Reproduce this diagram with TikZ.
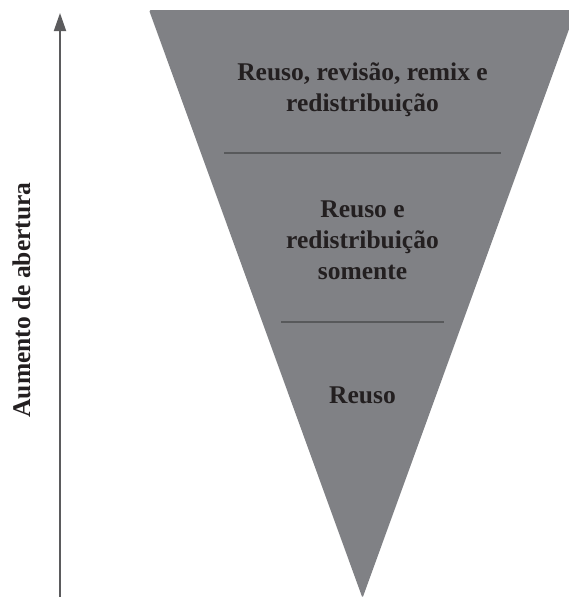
\documentclass[tikz,border=0pt]{standalone}
\usepackage{fontspec}
\setmainfont{Liberation Serif}
\usepackage{xcolor}
\usetikzlibrary{positioning,arrows.meta}

\definecolor{funil}{HTML}{808185}
\definecolor{divisa}{HTML}{58595B}
\definecolor{seta}{HTML}{5B5B5D}
\definecolor{texto}{HTML}{231F20}

\tikzset{
  rotulo/.style={font=\bfseries\fontsize{25.5}{31}\selectfont, text=texto, align=center, inner sep=0pt},
  divisoria/.style={draw=divisa, line width=2pt}
}

\begin{document}
\begin{tikzpicture}[x=1pt, y=-1pt]
\useasboundingbox (0,0) rectangle (568,597);
% funnel
\fill[funil, rounded corners=1.5pt] (149,10) -- (576,10) -- (362.5,598) -- cycle;
% dividers
\coordinate (d1a) at (224,152.5);
\coordinate (d1b) at (501,152.5);
\coordinate (d2a) at (281,322);
\coordinate (d2b) at (444,322);
\draw[divisoria] (d1a) -- (d1b);
\draw[divisoria] (d2a) -- (d2b);
% levels
\node[rotulo] (remix) at (362.5,90) {Reuso, revisão, remix e\\redistribuição};
\node[rotulo] (redist) at (362.5,240) {Reuso e\\redistribuição\\somente};
\node[rotulo, anchor=base] (reuso) at (362.5,403) {Reuso};
% axis
\coordinate (base) at (60,597);
\coordinate (topo) at (60,13);
\draw[seta, line width=1.8pt, -{Triangle[length=18pt, width=12pt]}] (base) -- (topo);
\node[rotulo, rotate=90, anchor=base] (abertura) at (30,300) {Aumento de abertura};
\end{tikzpicture}
\end{document}
